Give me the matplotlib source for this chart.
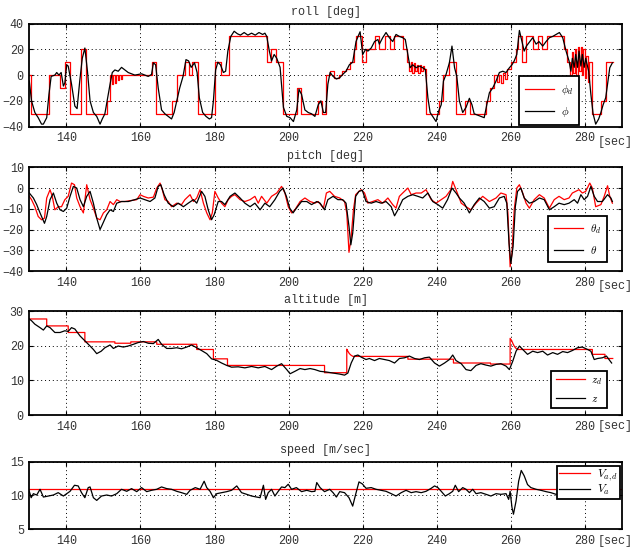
import matplotlib
matplotlib.use("Agg")
import matplotlib.pyplot as plt

# ---- data ---------------------------------------------------------------
# roll [deg]: desired (step changes, steps-post) and measured
roll_d_t = [130.0, 130.4, 135.4, 138.3, 139.6, 140.9, 144.0, 145.3, 151.0, 151.8,
            152.3, 152.6, 153.1, 153.4, 153.9, 154.2, 154.7, 155.0,
            163.0, 164.1, 168.4, 170.0, 171.9, 173.0, 174.0, 175.5, 180.1, 181.7,
            183.8, 194.2, 195.3, 196.5, 198.5, 202.2, 203.4, 207.8, 208.9, 210.2,
            211.2, 212.2, 213.5, 214.5, 215.5, 216.5, 217.6, 218.3, 219.8, 221.0,
            223.2, 224.5, 226.0, 227.3, 228.5, 230.8, 232.0, 232.6, 233.0, 233.4,
            233.8, 234.2, 234.6, 235.0, 235.4, 235.8, 236.2, 236.6, 237.2, 240.6,
            241.6, 243.2, 245.2, 247.6, 249.0, 253.3, 254.3, 255.4, 256.3, 256.8,
            257.3, 257.8, 258.3, 259.0, 260.0, 261.3, 262.0, 263.0, 264.0, 266.0,
            267.3, 268.5, 269.8, 274.3, 275.2, 276.0, 276.4, 276.8, 277.2, 277.6,
            278.0, 278.4, 278.8, 279.2, 279.6, 280.0, 280.4, 280.8, 281.2, 281.8,
            284.4, 285.7, 287.5]
roll_d_v = [0, -30, 0, -10, 10, -30, 20, -30, -20, 0,
            -7, 0, -6, 0, -4, 0, -3, 0,
            10, -30, -20, 0, 10, 0, 10, -30, 10, 0,
            30, 10, 20, 10, -30, -10, -30, -20, -30, 0,
            3, -2, 0, 3, 5, 10, 20, 30, 10, 20,
            30, 20, 30, 20, 30, 20, 10, 3, 10, 2,
            9, 3, 8, 2, 8, 3, 7, 5, -30, -20,
            0, 10, -30, -20, -30, -20, -10, 0, -5, 0,
            -6, 2, -3, 5, 10, 20, 30, 10, 30, 20,
            30, 20, 30, 20, 10, 0, 18, 2, 20, 0,
            22, 3, 22, 0, 20, -2, 15, -5, 10, -30,
            -20, 10, 10]

roll_t = [130.0, 130.6, 131.5, 132.4, 133.3, 133.8, 134.7, 135.3, 135.9, 136.9,
          137.4, 138.0, 138.6, 139.2, 139.6, 140.1, 140.5, 141.4, 142.3, 142.9,
          143.6, 144.3, 145.0, 145.7, 146.4, 147.3, 148.2, 149.1, 149.7, 150.4,
          151.0, 151.8, 152.4, 153.1, 154.0, 154.9, 155.8, 156.7, 157.6, 158.5,
          159.4, 160.3, 161.2, 162.1, 163.0, 163.5, 164.1, 164.8, 165.7, 166.6,
          167.5, 168.4, 169.1, 169.8, 170.6, 171.5, 172.3, 173.0, 173.7, 174.6,
          175.3, 175.9, 176.8, 177.7, 178.6, 179.2, 179.7, 180.3, 180.9, 181.6,
          182.4, 183.0, 183.6, 184.4, 185.3, 186.2, 187.0, 188.0, 189.0, 190.0,
          191.0, 192.0, 193.0, 193.6, 194.1, 194.8, 195.4, 196.1, 196.8, 197.7,
          198.6, 199.5, 200.4, 201.3, 202.2, 202.8, 203.5, 204.4, 205.3, 206.2,
          207.1, 208.0, 208.7, 209.4, 210.0, 210.6, 211.2, 212.0, 212.9, 213.8,
          214.6, 215.5, 216.4, 217.3, 218.2, 218.9, 219.3, 220.0, 220.8, 221.4,
          222.3, 223.2, 224.1, 224.5, 225.4, 226.3, 227.2, 228.1, 229.0, 229.9,
          230.8, 231.5, 232.2, 232.8, 233.5, 234.4, 235.3, 236.2, 236.9, 237.6,
          238.2, 238.9, 239.8, 240.5, 241.2, 241.8, 242.5, 243.4, 244.1, 244.8,
          245.4, 246.1, 247.0, 247.9, 248.8, 249.5, 250.1, 251.0, 251.9, 252.8,
          253.5, 254.2, 255.1, 256.0, 256.9, 257.8, 258.7, 259.6, 260.3, 260.9,
          261.6, 262.3, 263.0, 263.6, 264.2, 265.1, 265.9, 266.8, 267.6, 268.6,
          269.5, 270.4, 271.3, 272.2, 273.1, 274.0, 274.9, 275.7, 276.2, 276.6,
          277.1, 277.5, 278.0, 278.4, 278.9, 279.3, 279.8, 280.2, 281.0, 281.6,
          282.2, 282.9, 283.7, 284.3, 284.9, 285.6, 286.2, 286.7, 287.4]
roll_v = [-4.6, -20, -29, -33, -38, -38, -33, -15, -1, 0,
          2, 0, 2, -8.5, -6, 8, 7, -7, -24, -26,
          -5, 13, 21, 3, -20, -29, -32, -38, -34, -30,
          -20, -7, 2, 4, 3, 6, 4, 2, 1, 0,
          0.5, 1, 0, -1, 0.5, 9.5, 8, -10, -27, -30,
          -32, -34, -29, -20, -10, -1, 12, 11, 6, 9.5,
          2, -17.6, -29, -32, -34, -33, -20, 4, 10, 8,
          2, 3, 18.6, 30, 34, 32, 31, 33, 31, 32.5,
          31, 33, 31.5, 32.5, 30, 18.6, 11, 16, 13, 6,
          -25, -32, -33, -36, -27, -11, -15, -27, -29, -30,
          -32, -23, -20, -29, -29, -7, 2, -1, -3, -2,
          0.5, 3, 8, 10, 26, 31, 33.6, 16, 20, 18.6,
          21, 26, 27.6, 24, 29, 33, 29, 26, 31.5, 30,
          29, 27.6, 16, 5.7, 8, 5.7, 7, 5.7, 4.4, -17.6,
          -29, -32, -36, -28, -23, -4.6, 0.5, 9.5, 22.5, 5.7,
          -1, -20, -29, -25, -18, -23, -30, -31, -32, -33,
          -23, -13.7, -10, -4.6, 2, 3, 2, 5.7, 8, 11,
          16, 34.6, 26, 18.6, 22.5, 26, 29, 24, 26, 22.5,
          26, 29, 30, 31.5, 33, 29, 18.6, 11, 3, 13,
          6, 16, 6, 18.6, 7, 16, 6, 13, 3, -15,
          -30, -38, -34, -29, -23, -17.6, -4.6, 5.7, 9.5]

# pitch [deg]
pitch_d_t = [130.0, 130.6, 131.5, 132.4, 133.3, 134.1, 134.7, 135.6, 136.2, 136.9,
             137.8, 138.7, 139.6, 140.5, 141.4, 142.2, 142.8, 143.7, 144.6, 145.5,
             146.4, 147.3, 148.2, 149.1, 150.0, 150.9, 151.8, 152.7, 153.6, 154.5,
             155.8, 157.6, 159.0, 159.9, 160.8, 162.1, 163.5, 164.4, 165.3, 165.9,
             166.6, 167.5, 168.4, 169.8, 171.1, 172.0, 173.4, 174.3, 175.2, 176.1,
             177.0, 177.9, 178.8, 179.4, 180.1, 181.0, 181.9, 182.8, 183.7, 184.6,
             185.5, 186.9, 188.2, 189.6, 190.9, 191.8, 192.7, 194.1, 195.4, 196.8,
             198.1, 199.0, 199.9, 200.8, 201.7, 203.1, 204.4, 205.8, 207.1, 208.0,
             209.4, 210.2, 211.1, 212.4, 213.8, 215.1, 215.7, 216.3, 216.9, 217.5,
             218.1, 219.0, 219.6, 220.5, 221.4, 222.7, 224.1, 225.4, 226.8, 228.1,
             229.0, 229.9, 230.8, 232.2, 233.1, 234.4, 235.8, 237.1, 238.5, 239.8,
             241.2, 242.5, 243.8, 244.3, 245.2, 246.6, 247.9, 249.2, 250.6, 252.4,
             254.2, 256.0, 257.3, 258.7, 259.2, 259.8, 260.3, 260.9, 261.6, 262.3,
             263.2, 264.1, 265.0, 266.3, 267.7, 269.0, 270.4, 271.7, 273.0, 274.4,
             275.7, 276.6, 277.5, 278.4, 279.3, 280.2, 281.3, 282.0, 282.9, 284.3,
             285.2, 286.1, 286.7, 287.4]
pitch_d_v = [-4, -5.6, -9, -13.7, -15.3, -14.5, -4.8, -0.8, -4, -10.5,
             -9, -9, -5.6, -4, 2.4, 1.6, -4.8, -9, -12, 1.6,
             -5.6, -9.7, -14.5, -15.3, -12, -10.5, -6.5, -8, -5.6, -6.5,
             -6.5, -6, -5.6, -3.2, -4, -4.8, -4.4, 0, 2.4, -0.8,
             -5.6, -6.5, -9, -7.3, -8, -5.6, -3.2, -6.5, -4.8, -0.8,
             -7.3, -12, -15.3, -12, -1.6, -4.8, -7.3, -9, -5.6, -4,
             -3.2, -5.6, -6.5, -5.6, -4, -7.3, -4, -7.3, -4, -2.4,
             0.8, -2.4, -9, -12, -10.5, -6.5, -4.8, -6.5, -7.3, -6.5,
             -9.7, -2.4, -1.6, -4, -4.8, -6.5, -12, -31, -23.4, -10.5,
             -3.2, -1.6, -0.8, -2.4, -7.3, -6.5, -5.6, -7.3, -4.8, -8,
             -9.7, -4, -2.4, 0, -3.2, -2.4, -2.4, -0.8, -5.6, -7.3,
             -5.6, -4, -0.8, 3.2, -0.8, -7.3, -9, -10.5, -7.3, -4,
             -6.5, -4.8, -2.4, -3.2, -12, -38, -31.5, -10.5, 0, 1.6,
             -2.4, -7.3, -9.7, -5.6, -3.2, -4.8, -9.7, -5.6, -4, -5.6,
             -4.8, -2.4, -1.6, -0.8, -2.4, -1.6, 2.4, 0, -9, -8,
             -4, 1.1, -4, -7.3]

pitch_t = [130.0, 131.1, 132.0, 132.9, 134.1, 134.7, 135.6, 136.5, 137.4, 138.3,
           139.2, 140.1, 141.0, 141.9, 142.8, 143.7, 144.6, 145.5, 146.4, 147.3,
           148.2, 149.1, 149.7, 150.9, 151.8, 152.7, 153.6, 154.9, 156.7, 158.5,
           159.9, 161.2, 162.6, 163.9, 164.8, 165.5, 166.4, 167.5, 168.9, 170.2,
           171.6, 172.9, 174.3, 175.2, 176.5, 177.4, 178.3, 179.2, 179.9, 181.0,
           181.9, 182.8, 184.2, 185.5, 186.9, 188.2, 189.6, 190.9, 192.3, 193.6,
           194.9, 196.3, 197.6, 198.5, 199.4, 200.3, 201.2, 202.1, 203.5, 204.9,
           206.2, 207.6, 208.5, 209.7, 210.6, 212.0, 213.3, 214.6, 215.5, 216.3,
           216.8, 217.3, 218.1, 219.0, 219.9, 220.9, 222.3, 223.6, 225.0, 226.3,
           227.7, 228.6, 229.5, 230.8, 232.2, 233.5, 234.9, 236.2, 237.6, 238.9,
           240.3, 241.6, 242.9, 244.1, 245.2, 246.1, 247.4, 248.8, 250.1, 251.5,
           252.8, 254.2, 255.5, 256.9, 258.2, 258.9, 259.5, 260.0, 260.6, 261.2,
           261.8, 262.7, 263.6, 265.0, 266.3, 267.7, 269.0, 270.4, 271.7, 273.0,
           274.4, 275.7, 277.1, 278.0, 278.9, 279.8, 280.7, 281.6, 282.5, 283.4,
           284.7, 286.1, 287.0, 287.4]
pitch_v = [-2.4, -4.8, -8, -12, -17, -13.7, -5.6, -2.4, -7.3, -10.5,
           -11.3, -9.7, -4, 0.8, 0, -5.6, -9, -4, -1.6, -7.3,
           -14.5, -20, -17.7, -12.9, -10.5, -11.3, -7.3, -6.5, -6.5, -5.6,
           -4.8, -5.6, -6.5, -4.8, 0.8, 1.6, -3.2, -7.3, -9, -7.3,
           -9, -7.3, -5.6, -7.3, -1.6, -4, -10.5, -15.3, -12.9, -6.5,
           -6.5, -8, -4, -2.4, -4.8, -7.3, -9, -7.3, -10.5, -7.3,
           -9, -5.6, -1.6, 0, -4, -9.7, -12, -9.7, -6.5, -6.5,
           -8, -6.5, -7.3, -10.5, -5.6, -4, -5.6, -5.6, -7.3, -18.5,
           -27.4, -21.8, -4, -1.6, -1.1, -6.5, -7.3, -6.5, -7.3, -6.5,
           -9, -13.4, -10.5, -5.6, -4, -3.2, -4, -4.8, -2.4, -6.5,
           -8, -9.7, -5.6, 0, -2.4, -4.8, -7.3, -12, -8, -4.8,
           -6.5, -9.7, -9, -4.8, -4, -7.3, -26.6, -36.3, -28.2, -9,
           -1.6, 0, -4.8, -7.3, -6.5, -4.8, -5.6, -10.5, -9, -7.3,
           -8, -7.3, -5.6, -7.3, -3.2, -5.6, -4, 0.8, -4, -6.5,
           -6.5, -3.2, -4.8, -6.5]

# altitude [m]: desired as a polyline (vertical jumps share a time)
alt_d_t = [130.0, 134.7, 134.7, 140.5, 140.5, 145.0, 145.0, 153.1, 153.1, 157.4,
           157.4, 164.4, 164.4, 175.2, 175.2, 179.7, 179.7, 183.5, 183.5, 209.7,
           209.7, 215.7, 215.7, 216.0, 216.4, 216.9, 217.4, 232.2, 232.2, 244.5,
           244.5, 254.5, 254.5, 259.8, 259.8, 260.2, 260.6, 261.0, 261.5, 262.0,
           282.0, 282.0, 285.4, 285.4, 287.5]
alt_d_v = [27.7, 27.7, 25.7, 25.7, 23.8, 23.8, 21.1, 21.1, 20.7, 20.7,
           21.1, 21.1, 20.4, 20.4, 18.9, 18.9, 16.2, 16.2, 14.3, 14.3,
           12.2, 12.2, 19.0, 18.4, 17.7, 17.2, 16.9, 16.9, 16.1, 16.1,
           15.0, 15.0, 14.7, 14.7, 22.1, 21.5, 20.5, 19.7, 19.1, 18.9,
           18.9, 17.5, 17.5, 16.3, 16.3]

alt_t = [130.0, 130.6, 131.5, 132.9, 133.8, 134.7, 135.6, 136.9, 138.3, 139.6,
         140.5, 141.4, 142.3, 143.7, 145.0, 146.4, 147.3, 148.2, 149.4, 150.4,
         151.8, 152.7, 154.0, 155.4, 156.7, 158.1, 159.4, 160.8, 162.1, 163.5,
         164.8, 165.7, 167.1, 168.4, 169.8, 171.1, 172.5, 173.8, 175.2, 176.5,
         177.9, 179.2, 180.5, 181.9, 183.3, 184.6, 186.4, 188.2, 190.0, 191.8,
         193.6, 195.4, 196.8, 198.1, 199.5, 200.4, 201.7, 203.1, 204.4, 205.8,
         207.1, 208.5, 210.2, 212.0, 213.8, 215.1, 216.0, 216.9, 217.8, 218.7,
         219.6, 220.9, 221.8, 223.2, 224.5, 225.9, 227.2, 228.6, 229.9, 231.3,
         232.6, 234.0, 235.3, 236.7, 238.0, 239.4, 240.7, 242.1, 243.4, 244.3,
         245.2, 246.6, 247.9, 249.2, 250.6, 251.9, 253.3, 254.6, 256.0, 257.3,
         258.7, 259.6, 260.5, 261.4, 262.3, 263.2, 264.5, 265.9, 267.2, 268.6,
         269.9, 271.3, 272.6, 274.0, 275.3, 276.6, 278.0, 279.3, 280.7, 281.6,
         282.5, 283.4, 284.7, 285.8, 286.5, 287.2]
alt_v = [27.7, 27.2, 26.2, 25.2, 24.5, 25.7, 25.2, 23.8, 23.8, 24.3,
         24.1, 25.2, 24.8, 22.8, 21.4, 19.9, 18.9, 17.7, 18.4, 19.4,
         20.2, 19.2, 19.9, 19.6, 19.9, 20.4, 20.9, 21.2, 20.7, 20.6,
         21.8, 20.4, 19.2, 19.2, 19.4, 19.1, 19.6, 20.2, 19.4, 18.6,
         17.7, 16.2, 15.8, 15.0, 14.3, 13.8, 13.9, 13.6, 14.0, 13.6,
         14.0, 13.1, 14.1, 14.8, 13.1, 11.9, 12.6, 13.4, 13.1, 13.4,
         13.1, 12.6, 12.4, 12.1, 11.8, 11.5, 12.1, 15.0, 17.0, 17.3,
         16.7, 16.0, 16.3, 15.7, 16.3, 16.0, 15.7, 15.0, 16.3, 16.5,
         17.0, 16.3, 16.0, 16.5, 16.7, 15.0, 14.1, 15.0, 16.0, 17.3,
         15.7, 14.8, 13.1, 12.8, 14.3, 14.8, 14.4, 14.1, 14.6, 14.8,
         14.1, 13.1, 15.5, 18.4, 19.9, 18.9, 17.5, 18.4, 18.0, 18.4,
         17.3, 18.0, 17.5, 18.3, 18.0, 18.6, 19.4, 19.6, 18.9, 18.4,
         16.0, 16.3, 16.5, 17.0, 16.0, 15.0]

# speed [m/sec]
speed_d = 11.0
speed_t = [130.0, 130.5, 131.1, 132.0, 132.9, 133.8, 135.1, 136.5, 137.8, 139.2,
           140.1, 141.0, 142.2, 143.2, 144.1, 145.0, 145.9, 146.4, 147.3, 148.2,
           149.5, 150.9, 152.2, 153.6, 154.9, 156.3, 157.6, 159.0, 160.3, 161.7,
           163.0, 164.4, 165.7, 167.1, 168.4, 169.8, 171.1, 172.5, 173.4, 174.8,
           176.1, 177.2, 177.9, 178.8, 179.7, 180.6, 181.9, 183.3, 184.6, 186.0,
           187.3, 188.7, 190.0, 191.4, 192.3, 193.2, 193.8, 194.5, 195.4, 196.3,
           197.2, 198.1, 199.0, 199.9, 200.8, 202.1, 203.5, 204.9, 206.2, 207.1,
           207.6, 208.5, 209.7, 211.1, 212.0, 212.9, 213.8, 215.1, 216.3, 217.3,
           218.1, 219.0, 219.9, 220.9, 222.3, 223.6, 225.0, 226.3, 227.7, 229.0,
           230.4, 231.7, 233.1, 234.4, 235.8, 237.1, 238.5, 239.4, 240.3, 241.2,
           242.3, 243.4, 244.3, 245.0, 245.9, 247.0, 247.9, 248.8, 249.7, 250.6,
           251.9, 253.3, 254.6, 256.0, 257.3, 258.7, 259.4, 259.8, 260.3, 260.7,
           261.4, 262.1, 262.8, 263.6, 264.5, 265.4, 266.8, 268.1, 269.5, 270.8,
           272.2, 273.5, 274.9, 276.2, 277.5, 278.9, 280.2, 281.6, 282.9, 284.7,
           286.1, 287.3]
speed_v = [10.6, 9.65, 10.25, 10.05, 10.9, 9.75, 9.9, 10.05, 10.4, 9.9,
           10.25, 10.6, 11.5, 11.4, 10.4, 9.65, 11.15, 11.25, 9.65, 9.25,
           9.9, 10.05, 9.9, 10.25, 10.9, 10.6, 11.0, 10.55, 11.15, 10.55,
           10.75, 10.9, 11.25, 11.0, 10.9, 10.6, 10.4, 10.15, 10.75, 11.15,
           10.9, 12.1, 11.15, 10.6, 9.65, 10.25, 10.4, 10.55, 10.75, 11.4,
           10.4, 10.15, 9.9, 9.75, 9.65, 11.5, 9.4, 10.4, 10.9, 9.9,
           10.6, 11.25, 11.15, 11.65, 10.9, 11.15, 10.55, 10.75, 10.55, 10.6,
           11.9, 11.15, 10.55, 10.9, 10.4, 9.75, 10.55, 10.4, 9.65, 8.4,
           10.15, 12.0, 11.7, 11.05, 11.15, 10.9, 10.75, 10.6, 10.25, 9.9,
           10.4, 10.75, 10.4, 10.55, 10.4, 10.6, 11.05, 11.4, 11.15, 10.6,
           9.9, 10.25, 10.6, 11.5, 10.55, 11.15, 10.9, 10.4, 10.9, 10.25,
           10.4, 10.15, 9.9, 10.25, 10.15, 10.25, 9.4, 10.6, 8.2, 7.2,
           9.15, 12.1, 13.7, 12.9, 11.6, 11.15, 10.9, 10.75, 10.55, 10.4,
           10.15, 10.25, 9.9, 10.05, 10.15, 10.25, 10.4, 10.55, 10.55, 10.75,
           10.55, 10.05]

xticks = [140, 160, 180, 200, 220, 240, 260, 280]

# ---- styling --------------------------------------------------------------
plt.rcParams['font.family'] = ['Liberation Mono', 'DejaVu Sans Mono']
plt.rcParams['mathtext.fontset'] = 'cm'
txt = '#333333'

W, H = 632.0, 548.0
fig = plt.figure(figsize=(6.32, 5.48), dpi=100)

left = 29.3 / W
width = (622.0 - 29.3) / W
# (top, bottom) in pixels for each panel
boxes = [(23.5, 126.7), (167.3, 271.0), (311.0, 415.0), (461.7, 529.0)]


def make_axes(top, bottom, title, ylim, yticks, sec_y):
    ax = fig.add_axes([left, 1 - bottom / H, width, (bottom - top) / H])
    ax.set_xlim(130, 290)
    ax.set_ylim(*ylim)
    ax.set_xticks(xticks)
    ax.set_yticks(yticks)
    ax.grid(True, color='black', linestyle=(0, (1, 3)), linewidth=0.7)
    ax.tick_params(direction='in', length=3, width=0.8, top=True, right=True,
                   labelsize=8.5, labelcolor=txt, pad=4)
    for s in ax.spines.values():
        s.set_linewidth(1.3)
    ax.set_title(title, fontsize=8.5, color=txt, pad=6)
    fig.text(632.5 / W, 1 - sec_y / H, '[sec]', ha='right', va='center',
             fontsize=8.5, color=txt)
    return ax


def legend(ax, labels, loc, anchor, spacing, bpad, fs=8):
    leg = ax.legend(labels, loc=loc, bbox_to_anchor=anchor, borderaxespad=0,
                    fancybox=False, framealpha=1, edgecolor='black',
                    fontsize=fs, labelspacing=spacing, handlelength=2.6,
                    borderpad=bpad, handletextpad=0.6)
    leg.get_frame().set_linewidth(1.3)
    return leg


# roll
ax1 = make_axes(*boxes[0], 'roll [deg]', (-40, 40), [-40, -20, 0, 20, 40], 142.5)
ax1.plot(roll_d_t, roll_d_v, color='red', lw=0.9, drawstyle='steps-post')
ax1.plot(roll_t, roll_v, color='black', lw=0.9)
legend(ax1, [r'$\phi_d$', r'$\phi$'], 'lower left', (0.826, 0.016), 0.75, 0.55)

# pitch
ax2 = make_axes(*boxes[1], 'pitch [deg]', (-40, 10), [-40, -30, -20, -10, 0, 10], 286.5)
ax2.plot(pitch_d_t, pitch_d_v, color='red', lw=0.9)
ax2.plot(pitch_t, pitch_v, color='black', lw=0.9)
legend(ax2, [r'$\theta_d$', r'$\theta$'], 'lower left', (0.875, 0.087), 0.75, 0.55)

# altitude
ax3 = make_axes(*boxes[2], 'altitude [m]', (0, 30), [0, 10, 20, 30], 425.5)
ax3.plot(alt_d_t, alt_d_v, color='red', lw=0.9)
ax3.plot(alt_t, alt_v, color='black', lw=0.9)
legend(ax3, [r'$z_d$', r'$z$'], 'lower left', (0.881, 0.067), 0.6, 0.4)

# speed
ax4 = make_axes(*boxes[3], 'speed [m/sec]', (5, 15), [5, 10, 15], 541)
ax4.axhline(speed_d, color='red', lw=0.9)
ax4.plot(speed_t, speed_v, color='black', lw=0.9)
legend(ax4, [r'$V_{a,d}$', r'$V_a$'], 'upper right', (0.9966, 0.94), 0.0, 0.15, fs=8.5)

fig.savefig('out.png', dpi=100)
